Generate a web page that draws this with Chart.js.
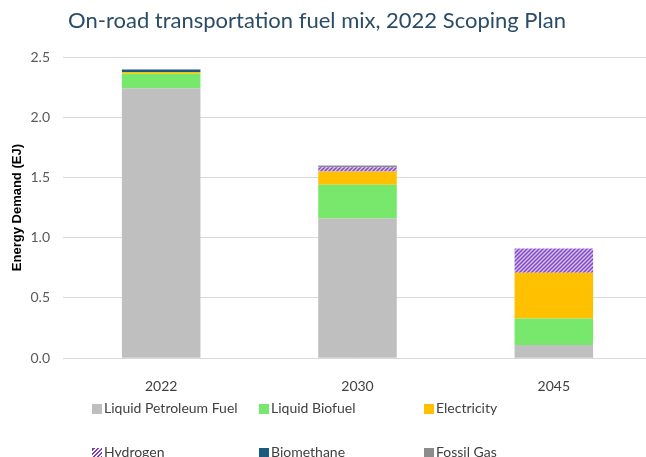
<!DOCTYPE html>
<html>
<head>
<meta charset="utf-8">
<script src="https://cdn.jsdelivr.net/npm/chart.js@4"></script>
<style>
  body { margin: 0; background: #fff; }
  #wrap { position: relative; width: 646px; height: 457px; overflow: hidden; }
  #title { position: absolute; left: 0; width: 634px; top: 6px; text-align: center; font-family: Lato, sans-serif; font-size: 22px; color: #2b4c68; }
  #legend { position: absolute; left: 0; top: 0; font-family: Lato, sans-serif; font-size: 14px; color: #404040; }
  .item { position: absolute; white-space: nowrap; line-height: 18px; }
  .box { display: inline-block; width: 10px; height: 10px; margin-right: 2px; vertical-align: -1px; }
</style>
</head>
<body>
<div id="wrap">
  <canvas id="myChart" width="652" height="457"></canvas>
  <div id="title">On-road transportation fuel mix, 2022 Scoping Plan</div>
  <div id="legend"></div>
</div>
<script>
var years = ['2022', '2030', '2045'];

// EJ
var petroleum = [2.24, 1.16, 0.11];
var biofuel = [0.12, 0.28, 0.22];
var electricity = [0.015, 0.11, 0.38];
var hydrogen = [0, 0.035, 0.2];
var biomethane = [0.02, 0, 0];
var fossilGas = [0.003, 0.015, 0];

var yTicks = [0, 0.5, 1, 1.5, 2, 2.5];

// hatch for hydrogen
function hatch() {
    var c = document.createElement('canvas');
    c.width = 4; c.height = 4;
    var g = c.getContext('2d');
    g.fillStyle = '#d6c3ee';
    g.fillRect(0, 0, 4, 4);
    g.strokeStyle = '#8149c4';
    g.lineWidth = 1.5;
    g.beginPath();
    g.moveTo(-1, 5); g.lineTo(5, -1);
    g.moveTo(-1, 1); g.lineTo(1, -1);
    g.moveTo(3, 5); g.lineTo(5, 3);
    g.stroke();
    return g.createPattern(c, 'repeat');
}

var series = [
    { label: 'Liquid Petroleum Fuel', data: petroleum, color: '#bfbfbf' },
    { label: 'Liquid Biofuel', data: biofuel, color: '#77e86b' },
    { label: 'Electricity', data: electricity, color: '#ffc000' },
    { label: 'Hydrogen', data: hydrogen, color: hatch() },
    { label: 'Biomethane', data: biomethane, color: '#1b5a7e' },
    { label: 'Fossil Gas', data: fossilGas, color: '#8c8c8c' }
];

var ctx = document.getElementById('myChart').getContext('2d');

var chart = new Chart(ctx, {
    type: 'bar',
    data: {
        labels: years,
        datasets: series.map(function (s) {
            return {
                label: s.label,
                data: s.data,
                backgroundColor: s.color,
                borderWidth: 0,
                barPercentage: 0.4,
                categoryPercentage: 1
            };
        })
    },
    options: {
        responsive: false,
        animation: false,
        layout: { padding: { left: 0, right: 0, top: 57, bottom: 50 } },
        plugins: {
            legend: { display: false },
            tooltip: { enabled: false }
        },
        scales: {
            x: {
                stacked: true,
                grid: { display: false },
                border: { display: false },
                ticks: { color: '#404040', font: { family: 'Lato', size: 14 }, padding: 12 }
            },
            y: {
                stacked: true,
                min: 0,
                max: 2.5,
                afterFit: function (scale) { scale.width = 63; },
                afterBuildTicks: function (scale) {
                    scale.ticks = yTicks.map(function (v) { return { value: v }; });
                },
                grid: { color: '#d9d9d9', drawTicks: false },
                border: { display: false },
                ticks: {
                    color: '#595959',
                    font: { family: 'Lato', size: 14 },
                    padding: 13,
                    callback: function (v) { return v.toFixed(1); }
                },
                title: {
                    display: true,
                    text: 'Energy Demand (EJ)',
                    color: '#000',
                    font: { family: 'Liberation Sans', size: 13, weight: 'bold' },
                    padding: { top: 10, bottom: 0 }
                }
            }
        }
    }
});

// legend laid out in fixed columns like the original
var cols = [92, 259, 424];
var rows = [408, 452];
var legend = document.getElementById('legend');
series.forEach(function (s, i) {
    var el = document.createElement('div');
    el.className = 'item';
    el.style.left = cols[i % 3] + 'px';
    el.style.top = (rows[Math.floor(i / 3)] - 9) + 'px';
    var box = '<span class="box" style="background:' + (typeof s.color === 'string' ? s.color :
        'repeating-linear-gradient(-45deg,#7a3cc2 0 1.5px,#fff 1.5px 3px)') + '"></span>';
    el.innerHTML = box + s.label;
    legend.appendChild(el);
});
</script>
</body>
</html>
